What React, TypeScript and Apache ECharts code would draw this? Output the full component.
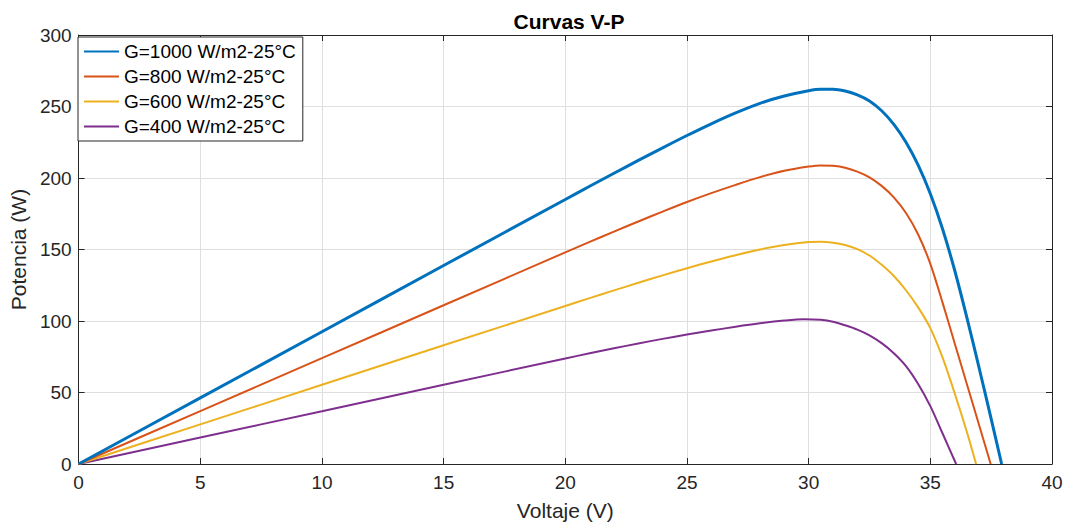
import React, { useEffect, useRef } from "react";
import * as echarts from "echarts";

const xTicks = [0, 5, 10, 15, 20, 25, 30, 35, 40];
const yTicks = [0, 50, 100, 150, 200, 250, 300];

const seriesNames = [
  "G=1000 W/m2-25°C",
  "G=800 W/m2-25°C",
  "G=600 W/m2-25°C",
  "G=400 W/m2-25°C",
];

// Voltage (V) / power (W) points
const v1000 = [0, 5, 10, 15, 20, 21, 22, 23, 24, 25, 26, 27, 28, 29, 30, 30.5, 31, 31.5, 32, 32.5, 33, 33.5, 34, 34.5, 35, 35.5, 36, 36.5, 37, 37.5, 37.93];
const p1000 = [0, 46.2, 92.5, 138.8, 185, 194.2, 203.3, 212.3, 221.1, 229.7, 237.9, 245.5, 252.2, 257.3, 261.0, 262.0, 262.0, 260.8, 258.2, 253.9, 247, 237.5, 225, 209, 189, 164.5, 135.5, 102.5, 67.5, 31.5, 0];

const v800 = [0, 5, 10, 15, 20, 21, 22, 23, 24, 25, 26, 27, 28, 29, 30, 30.5, 31, 31.5, 32, 32.5, 33, 33.5, 34, 34.5, 35, 35.5, 36, 36.5, 37, 37.48];
const p800 = [0, 37, 74, 111, 148, 155.3, 162.5, 169.6, 176.5, 183.2, 189.4, 195.2, 200.6, 205, 208, 208.8, 208.5, 207.2, 204.5, 200.5, 194.5, 186.5, 175.5, 160.5, 140, 113, 84.5, 56, 27.5, 0];

const v600 = [0, 5, 10, 15, 20, 21, 22, 23, 24, 25, 26, 27, 28, 29, 30, 30.5, 31, 31.5, 32, 32.5, 33, 33.5, 34, 34.5, 35, 35.5, 36, 36.5, 36.88];
const p600 = [0, 27.7, 55.4, 83, 110.5, 116, 121.4, 126.7, 131.9, 136.9, 141.6, 146, 150, 153.2, 155.2, 155.4, 154.8, 153.2, 150.3, 145.8, 139.3, 131.5, 121.5, 109.5, 95, 74.5, 49.5, 22.5, 0];

const v400 = [0, 5, 10, 15, 20, 21, 22, 23, 24, 25, 26, 27, 28, 29, 29.8, 30.5, 31, 31.5, 32, 32.5, 33, 33.5, 34, 34.5, 35, 35.5, 36.06];
const p400 = [0, 18.5, 36.9, 55.4, 73.8, 77.4, 80.9, 84.3, 87.5, 90.5, 93.3, 96, 98.4, 100.3, 101.2, 100.8, 99.5, 97, 94, 90, 84.5, 77.5, 68.5, 56, 40.5, 21.5, 0];

const colors = ["#0072BD", "#D95319", "#EDB120", "#7E2F8E"];
const widths = [3, 2, 2, 2];

const pairs = (v: number[], p: number[]) => v.map((x, i) => [x, p[i]]);

export default function App() {
  const ref = useRef<HTMLDivElement>(null);
  useEffect(() => {
    if (!ref.current) return;
    const chart = echarts.init(ref.current, null, { renderer: "svg" });
    const font = "Liberation Sans, Arial, Helvetica, sans-serif";
    const axisColor = "#262626";
    const allData = [pairs(v1000, p1000), pairs(v800, p800), pairs(v600, p600), pairs(v400, p400)];
    const baseX = {
      type: "value" as const,
      min: xTicks[0],
      max: xTicks[xTicks.length - 1],
      interval: 5,
    };
    const baseY = {
      type: "value" as const,
      min: yTicks[0],
      max: yTicks[yTicks.length - 1],
      interval: 50,
    };
    chart.setOption({
      animation: false,
      backgroundColor: "#ffffff",
      title: {
        text: "Curvas V-P",
        left: 564,
        textAlign: "center",
        top: 6,
        textStyle: { fontFamily: font, fontSize: 21, fontWeight: "bold", color: "#000" },
      },
      grid: { left: 77, right: 17, top: 35, bottom: 60, containLabel: false },
      legend: {
        orient: "vertical",
        left: 78,
        top: 37,
        padding: [5, 7, 5, 5],
        itemWidth: 35,
        itemHeight: 14,
        itemGap: 6,
        backgroundColor: "#fff",
        borderColor: "#262626",
        borderWidth: 1,
        borderRadius: 0,
        itemStyle: { opacity: 0 },
        textStyle: { fontFamily: font, fontSize: 19, lineHeight: 19, color: "#000" },
        data: seriesNames.map((n) => ({ name: n })),
      },
      xAxis: [
        {
          ...baseX,
          position: "bottom",
          name: "Voltaje (V)",
          nameLocation: "middle",
          nameGap: 36,
          nameTextStyle: { fontFamily: font, fontSize: 21, color: axisColor },
          axisLine: { show: true, lineStyle: { color: axisColor, width: 1 } },
          axisTick: { show: true, inside: true, length: 6, lineStyle: { color: axisColor } },
          axisLabel: { fontFamily: font, fontSize: 19, color: axisColor, margin: 9 },
          splitLine: { show: true, lineStyle: { color: "#dfdfdf", width: 1 } },
        },
        {
          ...baseX,
          position: "top",
          axisLine: { show: true, onZero: false, lineStyle: { color: axisColor, width: 1 } },
          axisTick: { show: true, inside: true, length: 6, lineStyle: { color: axisColor } },
          axisLabel: { show: false },
          splitLine: { show: false },
        },
      ],
      yAxis: [
        {
          ...baseY,
          position: "left",
          name: "Potencia (W)",
          nameLocation: "middle",
          nameGap: 45,
          nameTextStyle: { fontFamily: font, fontSize: 21, color: axisColor },
          axisLine: { show: true, lineStyle: { color: axisColor, width: 1 } },
          axisTick: { show: true, inside: true, length: 6, lineStyle: { color: axisColor } },
          axisLabel: { fontFamily: font, fontSize: 19, color: axisColor, margin: 7 },
          splitLine: { show: true, lineStyle: { color: "#dfdfdf", width: 1 } },
        },
        {
          ...baseY,
          position: "right",
          axisLine: { show: true, onZero: false, lineStyle: { color: axisColor, width: 1 } },
          axisTick: { show: true, inside: true, length: 6, lineStyle: { color: axisColor } },
          axisLabel: { show: false },
          splitLine: { show: false },
        },
      ],
      series: seriesNames.map((name, i) => ({
        name,
        type: "line",
        xAxisIndex: 0,
        yAxisIndex: 0,
        data: allData[i],
        smooth: 0.3,
        symbol: "none",
        showSymbol: false,
        color: colors[i],
        lineStyle: { color: colors[i], width: widths[i] },
        z: 10 - i,
      })),
    });
    return () => chart.dispose();
  }, []);
  return (
    <div
      ref={ref}
      style={{ position: "absolute", left: 0, top: 0, width: 1069, height: 526 }}
    />
  );
}
